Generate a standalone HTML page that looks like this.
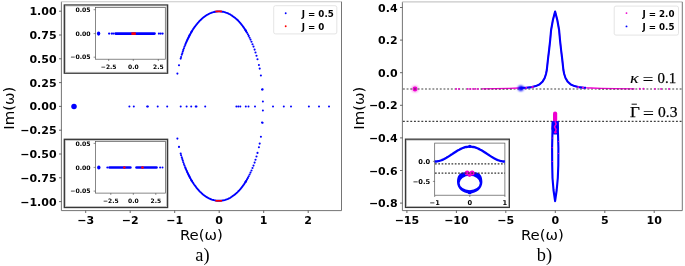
<!DOCTYPE html>
<html><head><meta charset="utf-8"><title>figure</title>
<style>html,body{margin:0;padding:0;background:#fff}svg{display:block}text{fill:#000}</style></head>
<body><svg width="685" height="266" viewBox="0 0 685 266">
<rect width="685" height="266" fill="#fff"/>
<filter id="bl" x="-50%" y="-50%" width="200%" height="200%"><feGaussianBlur stdDeviation="0.55"/></filter>
<rect x="61.4" y="1.7" width="280.1" height="208.9" fill="#fff" stroke="none"/>
<path d="M61.4 210.6V1.7" stroke="#5c5c5c" stroke-width="0.85" fill="none"/>
<path d="M61.4 210.6H341.5" stroke="#5c5c5c" stroke-width="0.85" fill="none"/>
<path d="M61.4 1.7H341.5" stroke="#c8c8c8" stroke-width="1.1" fill="none"/>
<path d="M341.5 1.7V210.6" stroke="#5c5c5c" stroke-width="0.85" fill="none"/>
<path d="M59.0 11.2H61.4" stroke="#444" stroke-width="0.8"/>
<text x="56.6" y="15.2" font-size="11" font-weight="bold" text-anchor="end" font-family='"DejaVu Sans","Liberation Sans",sans-serif' >1.00</text>
<path d="M59.0 35.0H61.4" stroke="#444" stroke-width="0.8"/>
<text x="56.6" y="39.0" font-size="11" font-weight="bold" text-anchor="end" font-family='"DejaVu Sans","Liberation Sans",sans-serif' >0.75</text>
<path d="M59.0 58.8H61.4" stroke="#444" stroke-width="0.8"/>
<text x="56.6" y="62.8" font-size="11" font-weight="bold" text-anchor="end" font-family='"DejaVu Sans","Liberation Sans",sans-serif' >0.50</text>
<path d="M59.0 82.6H61.4" stroke="#444" stroke-width="0.8"/>
<text x="56.6" y="86.6" font-size="11" font-weight="bold" text-anchor="end" font-family='"DejaVu Sans","Liberation Sans",sans-serif' >0.25</text>
<path d="M59.0 106.4H61.4" stroke="#444" stroke-width="0.8"/>
<text x="56.6" y="110.4" font-size="11" font-weight="bold" text-anchor="end" font-family='"DejaVu Sans","Liberation Sans",sans-serif' >0.00</text>
<path d="M59.0 130.2H61.4" stroke="#444" stroke-width="0.8"/>
<text x="56.6" y="134.2" font-size="11" font-weight="bold" text-anchor="end" font-family='"DejaVu Sans","Liberation Sans",sans-serif' >−0.25</text>
<path d="M59.0 154.0H61.4" stroke="#444" stroke-width="0.8"/>
<text x="56.6" y="158.0" font-size="11" font-weight="bold" text-anchor="end" font-family='"DejaVu Sans","Liberation Sans",sans-serif' >−0.50</text>
<path d="M59.0 177.8H61.4" stroke="#444" stroke-width="0.8"/>
<text x="56.6" y="181.8" font-size="11" font-weight="bold" text-anchor="end" font-family='"DejaVu Sans","Liberation Sans",sans-serif' >−0.75</text>
<path d="M59.0 201.6H61.4" stroke="#444" stroke-width="0.8"/>
<text x="56.6" y="205.6" font-size="11" font-weight="bold" text-anchor="end" font-family='"DejaVu Sans","Liberation Sans",sans-serif' >−1.00</text>
<path d="M85.7 210.6V213.0" stroke="#444" stroke-width="0.8"/>
<text x="85.7" y="224.2" font-size="11" font-weight="bold" text-anchor="middle" font-family='"DejaVu Sans","Liberation Sans",sans-serif' >−3</text>
<path d="M130.2 210.6V213.0" stroke="#444" stroke-width="0.8"/>
<text x="130.2" y="224.2" font-size="11" font-weight="bold" text-anchor="middle" font-family='"DejaVu Sans","Liberation Sans",sans-serif' >−2</text>
<path d="M174.7 210.6V213.0" stroke="#444" stroke-width="0.8"/>
<text x="174.7" y="224.2" font-size="11" font-weight="bold" text-anchor="middle" font-family='"DejaVu Sans","Liberation Sans",sans-serif' >−1</text>
<path d="M219.2 210.6V213.0" stroke="#444" stroke-width="0.8"/>
<text x="219.2" y="224.2" font-size="11" font-weight="bold" text-anchor="middle" font-family='"DejaVu Sans","Liberation Sans",sans-serif' >0</text>
<path d="M263.7 210.6V213.0" stroke="#444" stroke-width="0.8"/>
<text x="263.7" y="224.2" font-size="11" font-weight="bold" text-anchor="middle" font-family='"DejaVu Sans","Liberation Sans",sans-serif' >1</text>
<path d="M308.2 210.6V213.0" stroke="#444" stroke-width="0.8"/>
<text x="308.2" y="224.2" font-size="11" font-weight="bold" text-anchor="middle" font-family='"DejaVu Sans","Liberation Sans",sans-serif' >2</text>
<text x="201.4" y="240.0" font-size="14.9" font-weight="normal" text-anchor="middle" font-family='"DejaVu Sans","Liberation Sans",sans-serif' >Re(ω)</text>
<text transform="translate(14.4 108.2) rotate(-90)" font-size="14.9" text-anchor="middle" font-family='"DejaVu Sans","Liberation Sans",sans-serif'>Im(ω)</text>
<text x="202.5" y="261.4" font-size="18.4" font-weight="normal" text-anchor="middle" font-family='"Liberation Serif","DejaVu Serif",serif' >a)</text>
<path d="M191.1 32.5L191.7 31.5L192.3 30.5L192.9 29.6L193.5 28.6L194.1 27.7L194.7 26.9L195.4 26.0L196.0 25.2L196.6 24.4L197.3 23.6L197.9 22.8L198.6 22.1L199.2 21.3L199.9 20.6L200.6 20.0L201.3 19.3L201.9 18.7L202.6 18.1L203.3 17.5L204.0 17.0L204.7 16.5L205.4 16.0L206.1 15.5L206.8 15.0L207.6 14.6L208.3 14.2L209.0 13.8L209.7 13.5L210.4 13.2L211.2 12.9L211.9 12.6L212.6 12.4L213.4 12.2L214.1 12.0L214.9 11.8L215.6 11.7L216.3 11.6L217.1 11.5L217.8 11.4L218.6 11.4L219.3 11.4L220.0 11.4L220.8 11.5L221.5 11.6L222.3 11.7L223.0 11.8L223.7 11.9L224.5 12.1L225.2 12.3L225.9 12.6L226.7 12.8L227.4 13.1L228.1 13.4L228.9 13.8L229.6 14.1L230.3 14.5L231.0 15.0L231.7 15.4L232.4 15.9L233.1 16.4L233.8 16.9L234.5 17.4L235.2 18.0L235.9 18.6L236.6 19.2L237.3 19.8L238.0 20.5L238.6 21.2L239.3 21.9L239.9 22.7L240.6 23.4L241.2 24.2L241.9 25.0L242.5 25.8L243.1 26.7L243.8 27.6L244.4 28.5L245.0 29.4L245.6 30.3L246.2 31.3" stroke="#0000ff" stroke-width="1.9" fill="none" stroke-linecap="round"/>
<path d="M191.1 179.7L191.7 180.7L192.3 181.7L192.9 182.6L193.5 183.6L194.1 184.5L194.7 185.3L195.4 186.2L196.0 187.0L196.6 187.8L197.3 188.6L197.9 189.4L198.6 190.1L199.2 190.9L199.9 191.6L200.6 192.2L201.3 192.9L201.9 193.5L202.6 194.1L203.3 194.7L204.0 195.2L204.7 195.7L205.4 196.2L206.1 196.7L206.8 197.2L207.6 197.6L208.3 198.0L209.0 198.4L209.7 198.7L210.4 199.0L211.2 199.3L211.9 199.6L212.6 199.8L213.4 200.0L214.1 200.2L214.9 200.4L215.6 200.5L216.3 200.6L217.1 200.7L217.8 200.8L218.6 200.8L219.3 200.8L220.0 200.8L220.8 200.7L221.5 200.6L222.3 200.5L223.0 200.4L223.7 200.3L224.5 200.1L225.2 199.9L225.9 199.6L226.7 199.4L227.4 199.1L228.1 198.8L228.9 198.4L229.6 198.1L230.3 197.7L231.0 197.2L231.7 196.8L232.4 196.3L233.1 195.8L233.8 195.3L234.5 194.8L235.2 194.2L235.9 193.6L236.6 193.0L237.3 192.4L238.0 191.7L238.6 191.0L239.3 190.3L239.9 189.5L240.6 188.8L241.2 188.0L241.9 187.2L242.5 186.4L243.1 185.5L243.8 184.6L244.4 183.7L245.0 182.8L245.6 181.9L246.2 180.9" stroke="#0000ff" stroke-width="1.9" fill="none" stroke-linecap="round"/>
<g fill="#0000ff" opacity="1"><circle cx="177.4" cy="73.6" r="1.05"/><circle cx="179.0" cy="65.3" r="1.05"/><circle cx="180.7" cy="58.6" r="1.05"/><circle cx="181.1" cy="57.0" r="1.05"/><circle cx="181.8" cy="54.8" r="1.05"/><circle cx="182.3" cy="53.2" r="1.05"/><circle cx="182.8" cy="51.6" r="1.05"/><circle cx="183.3" cy="49.9" r="1.05"/><circle cx="183.9" cy="48.2" r="1.05"/><circle cx="184.5" cy="46.6" r="1.05"/><circle cx="185.2" cy="45.0" r="1.05"/><circle cx="185.6" cy="43.8" r="1.05"/><circle cx="186.1" cy="42.6" r="1.05"/><circle cx="186.7" cy="41.4" r="1.05"/><circle cx="187.1" cy="40.3" r="1.05"/><circle cx="187.6" cy="39.4" r="1.05"/><circle cx="188.0" cy="38.5" r="1.05"/><circle cx="188.4" cy="37.7" r="1.05"/><circle cx="188.8" cy="36.9" r="1.05"/><circle cx="189.2" cy="36.1" r="1.05"/><circle cx="189.5" cy="35.4" r="1.05"/><circle cx="189.9" cy="34.7" r="1.05"/><circle cx="190.3" cy="34.0" r="1.05"/><circle cx="191.0" cy="32.7" r="1.05"/><circle cx="191.7" cy="31.5" r="1.05"/><circle cx="262.6" cy="89.4" r="1.05"/><circle cx="260.9" cy="75.5" r="1.05"/><circle cx="259.7" cy="68.6" r="1.05"/><circle cx="258.9" cy="65.0" r="1.05"/><circle cx="257.5" cy="59.3" r="1.05"/><circle cx="256.5" cy="55.7" r="1.05"/><circle cx="255.5" cy="52.5" r="1.05"/><circle cx="254.6" cy="49.6" r="1.05"/><circle cx="253.5" cy="46.6" r="1.05"/><circle cx="252.5" cy="44.2" r="1.05"/><circle cx="251.5" cy="41.7" r="1.05"/><circle cx="250.5" cy="39.6" r="1.05"/><circle cx="249.6" cy="37.7" r="1.05"/><circle cx="248.7" cy="35.9" r="1.05"/><circle cx="247.9" cy="34.3" r="1.05"/><circle cx="247.0" cy="32.8" r="1.05"/><circle cx="246.2" cy="31.4" r="1.05"/><circle cx="245.5" cy="30.2" r="1.05"/><circle cx="177.4" cy="138.6" r="1.05"/><circle cx="179.0" cy="146.9" r="1.05"/><circle cx="180.7" cy="153.6" r="1.05"/><circle cx="181.1" cy="155.2" r="1.05"/><circle cx="181.8" cy="157.4" r="1.05"/><circle cx="182.3" cy="159.0" r="1.05"/><circle cx="182.8" cy="160.6" r="1.05"/><circle cx="183.3" cy="162.3" r="1.05"/><circle cx="183.9" cy="164.0" r="1.05"/><circle cx="184.5" cy="165.6" r="1.05"/><circle cx="185.2" cy="167.2" r="1.05"/><circle cx="185.6" cy="168.4" r="1.05"/><circle cx="186.1" cy="169.6" r="1.05"/><circle cx="186.7" cy="170.8" r="1.05"/><circle cx="187.1" cy="171.9" r="1.05"/><circle cx="187.6" cy="172.8" r="1.05"/><circle cx="188.0" cy="173.7" r="1.05"/><circle cx="188.4" cy="174.5" r="1.05"/><circle cx="188.8" cy="175.3" r="1.05"/><circle cx="189.2" cy="176.1" r="1.05"/><circle cx="189.5" cy="176.8" r="1.05"/><circle cx="189.9" cy="177.5" r="1.05"/><circle cx="190.3" cy="178.2" r="1.05"/><circle cx="191.0" cy="179.5" r="1.05"/><circle cx="191.7" cy="180.7" r="1.05"/><circle cx="262.6" cy="122.8" r="1.05"/><circle cx="260.9" cy="136.7" r="1.05"/><circle cx="259.7" cy="143.6" r="1.05"/><circle cx="258.9" cy="147.2" r="1.05"/><circle cx="257.5" cy="152.9" r="1.05"/><circle cx="256.5" cy="156.5" r="1.05"/><circle cx="255.5" cy="159.7" r="1.05"/><circle cx="254.6" cy="162.6" r="1.05"/><circle cx="253.5" cy="165.6" r="1.05"/><circle cx="252.5" cy="168.0" r="1.05"/><circle cx="251.5" cy="170.5" r="1.05"/><circle cx="250.5" cy="172.6" r="1.05"/><circle cx="249.6" cy="174.5" r="1.05"/><circle cx="248.7" cy="176.3" r="1.05"/><circle cx="247.9" cy="177.9" r="1.05"/><circle cx="247.0" cy="179.4" r="1.05"/><circle cx="246.2" cy="180.8" r="1.05"/><circle cx="245.5" cy="182.0" r="1.05"/></g>
<path d="M215.4 11.4H222" stroke="#ff0000" stroke-width="1.7"/>
<path d="M215.4 200.8H222" stroke="#ff0000" stroke-width="1.7"/>
<g fill="#0000ff" opacity="1"><circle cx="129.4" cy="106.5" r="1.0"/><circle cx="133.8" cy="106.5" r="1.0"/><circle cx="147.1" cy="106.5" r="1.0"/><circle cx="147.9" cy="106.5" r="1.0"/><circle cx="157.7" cy="106.5" r="1.0"/><circle cx="167.2" cy="106.5" r="1.0"/><circle cx="180.7" cy="106.5" r="1.0"/><circle cx="186.6" cy="106.5" r="1.0"/><circle cx="191.2" cy="106.5" r="1.0"/><circle cx="195.7" cy="106.5" r="1.0"/><circle cx="196.5" cy="106.5" r="1.0"/><circle cx="205.2" cy="106.5" r="1.0"/><circle cx="236.4" cy="106.5" r="1.0"/><circle cx="238.3" cy="106.5" r="1.0"/><circle cx="240.3" cy="106.5" r="1.0"/><circle cx="245.8" cy="106.5" r="1.0"/><circle cx="248.5" cy="106.5" r="1.0"/><circle cx="255.0" cy="106.5" r="1.0"/><circle cx="273.0" cy="106.5" r="1.0"/><circle cx="283.8" cy="106.5" r="1.0"/><circle cx="291.0" cy="106.5" r="1.0"/><circle cx="308.9" cy="106.5" r="1.0"/><circle cx="319.0" cy="106.5" r="1.0"/><circle cx="329.0" cy="106.5" r="1.0"/></g>
<g fill="#0000ff" opacity="1"><circle cx="262.0" cy="89.6" r="1.0"/><circle cx="262.9" cy="101.5" r="1.0"/><circle cx="262.9" cy="110.6" r="1.0"/><circle cx="262.0" cy="122.6" r="1.0"/></g>
<circle cx="74" cy="106.4" r="2.75" fill="#0000ff" filter="url(#bl)"/>
<rect x="273.7" y="5.7" width="63.1" height="28.2" rx="1.8" fill="#fff" stroke="#ddd" stroke-width="0.8"/>
<circle cx="285.7" cy="13.2" r="0.95" fill="#0000ff"/><circle cx="285.7" cy="26.2" r="0.95" fill="#ff0000"/>
<text x="301.8" y="16.8" font-size="8.7" font-weight="bold" text-anchor="start" font-family='"DejaVu Sans","Liberation Sans",sans-serif' >J = 0.5</text>
<text x="301.8" y="29.8" font-size="8.7" font-weight="bold" text-anchor="start" font-family='"DejaVu Sans","Liberation Sans",sans-serif' >J = 0</text>
<rect x="64.3" y="5.0" width="103.3" height="68.2" fill="#fff" stroke="#383838" stroke-width="1.35"/>
<rect x="65.3" y="6.0" width="101.3" height="66.2" fill="none" stroke="#aaa" stroke-width="0.6"/>
<rect x="95.4" y="7.5" width="69.9" height="51.7" fill="#fff" stroke="#555" stroke-width="0.7"/>
<path d="M93.6 9.7H95.4" stroke="#444" stroke-width="0.6"/>
<text x="90.6" y="11.95" font-size="6.15" font-weight="bold" text-anchor="end" font-family='"DejaVu Sans","Liberation Sans",sans-serif' >0.05</text>
<path d="M93.6 33.6H95.4" stroke="#444" stroke-width="0.6"/>
<text x="90.6" y="35.85" font-size="6.15" font-weight="bold" text-anchor="end" font-family='"DejaVu Sans","Liberation Sans",sans-serif' >0.00</text>
<path d="M93.6 57.2H95.4" stroke="#444" stroke-width="0.6"/>
<text x="90.6" y="59.45" font-size="6.15" font-weight="bold" text-anchor="end" font-family='"DejaVu Sans","Liberation Sans",sans-serif' >−0.05</text>
<path d="M108.7 59.2V61" stroke="#444" stroke-width="0.6"/>
<text x="108.7" y="68.9" font-size="6" font-weight="bold" text-anchor="middle" font-family='"DejaVu Sans","Liberation Sans",sans-serif' >−2.5</text>
<path d="M133.3 59.2V61" stroke="#444" stroke-width="0.6"/>
<text x="133.3" y="68.9" font-size="6" font-weight="bold" text-anchor="middle" font-family='"DejaVu Sans","Liberation Sans",sans-serif' >0.0</text>
<path d="M158.3 59.2V61" stroke="#444" stroke-width="0.6"/>
<text x="158.3" y="68.9" font-size="6" font-weight="bold" text-anchor="middle" font-family='"DejaVu Sans","Liberation Sans",sans-serif' >2.5</text>
<path d="M115.5 33.6H154.5" stroke="#0000ff" stroke-width="2.6" stroke-linecap="round"/>
<g fill="#0000ff" opacity="1"><circle cx="109.1" cy="33.6" r="1.1"/><circle cx="111.7" cy="33.6" r="1.1"/><circle cx="113.2" cy="33.6" r="1.1"/><circle cx="158.9" cy="33.6" r="1.1"/><circle cx="160.7" cy="33.6" r="1.1"/><circle cx="162.6" cy="33.6" r="1.1"/></g>
<ellipse cx="98.6" cy="33.6" rx="1.7" ry="2.1" fill="#0000ff"/>
<path d="M131.4 33.6H135.8" stroke="#ff0000" stroke-width="2.6"/>
<rect x="64.3" y="139.3" width="103.3" height="68.19999999999999" fill="#fff" stroke="#383838" stroke-width="1.35"/>
<rect x="65.3" y="140.3" width="101.3" height="66.19999999999999" fill="none" stroke="#aaa" stroke-width="0.6"/>
<rect x="95.4" y="141.6" width="70.1" height="51.5" fill="#fff" stroke="#555" stroke-width="0.7"/>
<path d="M93.6 143.4H95.4" stroke="#444" stroke-width="0.6"/>
<text x="90.6" y="145.65" font-size="6.15" font-weight="bold" text-anchor="end" font-family='"DejaVu Sans","Liberation Sans",sans-serif' >0.05</text>
<path d="M93.6 167.4H95.4" stroke="#444" stroke-width="0.6"/>
<text x="90.6" y="169.65" font-size="6.15" font-weight="bold" text-anchor="end" font-family='"DejaVu Sans","Liberation Sans",sans-serif' >0.00</text>
<path d="M93.6 191.1H95.4" stroke="#444" stroke-width="0.6"/>
<text x="90.6" y="193.35" font-size="6.15" font-weight="bold" text-anchor="end" font-family='"DejaVu Sans","Liberation Sans",sans-serif' >−0.05</text>
<path d="M110.8 193.1V194.9" stroke="#444" stroke-width="0.6"/>
<text x="110.8" y="202.9" font-size="6" font-weight="bold" text-anchor="middle" font-family='"DejaVu Sans","Liberation Sans",sans-serif' >−2.5</text>
<path d="M133.3 193.1V194.9" stroke="#444" stroke-width="0.6"/>
<text x="133.3" y="202.9" font-size="6" font-weight="bold" text-anchor="middle" font-family='"DejaVu Sans","Liberation Sans",sans-serif' >0.0</text>
<path d="M155.8 193.1V194.9" stroke="#444" stroke-width="0.6"/>
<text x="155.8" y="202.9" font-size="6" font-weight="bold" text-anchor="middle" font-family='"DejaVu Sans","Liberation Sans",sans-serif' >2.5</text>
<path d="M109.5 167.5H130.4" stroke="#0000ff" stroke-width="2.6" stroke-linecap="round"/>
<path d="M136.5 167.5H156.5" stroke="#0000ff" stroke-width="2.6" stroke-linecap="round"/>
<g fill="#0000ff" opacity="1"><circle cx="107.3" cy="167.5" r="1.0"/><circle cx="160.1" cy="167.5" r="1.0"/><circle cx="162.5" cy="167.5" r="1.0"/></g>
<ellipse cx="98.8" cy="167.5" rx="1.7" ry="2.1" fill="#0000ff"/>
<g fill="#ff0000" opacity="1"><circle cx="124.3" cy="167.5" r="1.3"/><circle cx="142.5" cy="167.5" r="1.3"/></g>
<path d="M402.4 210.6V1.9" stroke="#5c5c5c" stroke-width="0.85" fill="none"/>
<path d="M402.4 210.6H682.3" stroke="#5c5c5c" stroke-width="0.85" fill="none"/>
<path d="M402.4 1.9H682.3" stroke="#c8c8c8" stroke-width="1.1" fill="none"/>
<path d="M682.3 1.9V210.6" stroke="#5c5c5c" stroke-width="0.85" fill="none"/>
<path d="M400.0 7.5H402.4" stroke="#444" stroke-width="0.8"/>
<text x="397.6" y="11.5" font-size="11" font-weight="bold" text-anchor="end" font-family='"DejaVu Sans","Liberation Sans",sans-serif' >0.4</text>
<path d="M400.0 40.1H402.4" stroke="#444" stroke-width="0.8"/>
<text x="397.6" y="44.1" font-size="11" font-weight="bold" text-anchor="end" font-family='"DejaVu Sans","Liberation Sans",sans-serif' >0.2</text>
<path d="M400.0 72.7H402.4" stroke="#444" stroke-width="0.8"/>
<text x="397.6" y="76.7" font-size="11" font-weight="bold" text-anchor="end" font-family='"DejaVu Sans","Liberation Sans",sans-serif' >0.0</text>
<path d="M400.0 105.3H402.4" stroke="#444" stroke-width="0.8"/>
<text x="397.6" y="109.3" font-size="11" font-weight="bold" text-anchor="end" font-family='"DejaVu Sans","Liberation Sans",sans-serif' >−0.2</text>
<path d="M400.0 137.9H402.4" stroke="#444" stroke-width="0.8"/>
<text x="397.6" y="141.9" font-size="11" font-weight="bold" text-anchor="end" font-family='"DejaVu Sans","Liberation Sans",sans-serif' >−0.4</text>
<path d="M400.0 170.5H402.4" stroke="#444" stroke-width="0.8"/>
<text x="397.6" y="174.5" font-size="11" font-weight="bold" text-anchor="end" font-family='"DejaVu Sans","Liberation Sans",sans-serif' >−0.6</text>
<path d="M400.0 203.1H402.4" stroke="#444" stroke-width="0.8"/>
<text x="397.6" y="207.1" font-size="11" font-weight="bold" text-anchor="end" font-family='"DejaVu Sans","Liberation Sans",sans-serif' >−0.8</text>
<path d="M406.9 210.6V213.0" stroke="#444" stroke-width="0.8"/>
<text x="406.9" y="224.2" font-size="11" font-weight="bold" text-anchor="middle" font-family='"DejaVu Sans","Liberation Sans",sans-serif' >−15</text>
<path d="M456.4 210.6V213.0" stroke="#444" stroke-width="0.8"/>
<text x="456.4" y="224.2" font-size="11" font-weight="bold" text-anchor="middle" font-family='"DejaVu Sans","Liberation Sans",sans-serif' >−10</text>
<path d="M505.8 210.6V213.0" stroke="#444" stroke-width="0.8"/>
<text x="505.8" y="224.2" font-size="11" font-weight="bold" text-anchor="middle" font-family='"DejaVu Sans","Liberation Sans",sans-serif' >−5</text>
<path d="M555.3 210.6V213.0" stroke="#444" stroke-width="0.8"/>
<text x="555.3" y="224.2" font-size="11" font-weight="bold" text-anchor="middle" font-family='"DejaVu Sans","Liberation Sans",sans-serif' >0</text>
<path d="M604.8 210.6V213.0" stroke="#444" stroke-width="0.8"/>
<text x="604.8" y="224.2" font-size="11" font-weight="bold" text-anchor="middle" font-family='"DejaVu Sans","Liberation Sans",sans-serif' >5</text>
<path d="M654.2 210.6V213.0" stroke="#444" stroke-width="0.8"/>
<text x="654.2" y="224.2" font-size="11" font-weight="bold" text-anchor="middle" font-family='"DejaVu Sans","Liberation Sans",sans-serif' >10</text>
<text x="542.4" y="240.0" font-size="14.9" font-weight="normal" text-anchor="middle" font-family='"DejaVu Sans","Liberation Sans",sans-serif' >Re(ω)</text>
<text transform="translate(363.5 108.2) rotate(-90)" font-size="14.9" text-anchor="middle" font-family='"DejaVu Sans","Liberation Sans",sans-serif'>Im(ω)</text>
<text x="544.5" y="261.4" font-size="18.4" font-weight="normal" text-anchor="middle" font-family='"Liberation Serif","DejaVu Serif",serif' >b)</text>
<filter id="bl2" x="-50%" y="-50%" width="200%" height="200%"><feGaussianBlur stdDeviation="0.8"/></filter>
<circle cx="415" cy="89" r="3.3" fill="#ee00d0" opacity="0.45" filter="url(#bl2)"/><circle cx="415" cy="89" r="2.4" fill="#ee00d0" filter="url(#bl)"/>
<path d="M402.9 89H682.3" stroke="#404040" stroke-width="1.2" stroke-dasharray="1.9 1.79"/>
<path d="M402.9 121.4H682.3" stroke="#404040" stroke-width="1.2" stroke-dasharray="1.9 1.79"/>
<clipPath id="cd"><rect x="481" y="88.3" width="32" height="2"/><rect x="597" y="88.3" width="38" height="2"/></clipPath>
<path d="M481.6 88.8L495.1 88.7L509.1 88.4L519.2 88.0L526.1 87.7L531.8 87.1L535.7 86.1L539.4 84.5L542.7 81.4L544.7 78.0L546.0 74.0L546.8 70.0L548.0 59.0L549.1 50.0L550.2 40.0L551.1 30.0L552.9 20.0L555.1 11.5L557.3 20.0L559.1 30.0L560.0 40.0L561.1 50.0L562.2 59.0L563.4 70.0L564.2 74.0L565.5 78.0L567.5 81.4L570.8 84.5L574.5 86.1L578.4 87.1L584.1 87.7L591.0 88.0L601.1 88.4L615.1 88.7L634.6 88.8" stroke="#ee00d0" stroke-width="1.35" fill="none" stroke-linejoin="round"/>
<path d="M520.7 87.9L526.1 87.7L531.8 87.1L535.7 86.1L539.4 84.5L542.7 81.4L544.7 78.0L546.0 74.0L546.8 70.0L548.0 59.0L549.1 50.0L550.2 40.0L551.1 30.0L552.9 20.0L555.1 11.5L557.3 20.0L559.1 30.0L560.0 40.0L561.1 50.0L562.2 59.0L563.4 70.0L564.2 74.0L565.5 78.0L567.5 81.4L570.8 84.5L574.5 86.1L578.4 87.1L584.1 87.7L586.0 87.8" stroke="#0000ff" stroke-width="2.1" fill="none" stroke-linejoin="round"/>
<path d="M402.9 89H682.3" stroke="#333" stroke-width="1.3" stroke-dasharray="1.9 1.79" opacity="0.45" clip-path="url(#cd)"/>
<path d="M531.5 87.1L531.8 87.1L533.5 86.7" stroke="#ee00d0" stroke-width="1.6" fill="none"/>
<path d="M525.5 87.7L526.1 87.7L527.0 87.6" stroke="#ee00d0" stroke-width="1.6" fill="none"/>
<path d="M577.5 86.9L578.4 87.1L579.0 87.2" stroke="#ee00d0" stroke-width="1.6" fill="none"/>
<path d="M582.0 87.5L584.0 87.7" stroke="#ee00d0" stroke-width="1.6" fill="none"/>
<g fill="#ee00d0" opacity="1"><circle cx="456.2" cy="88.9" r="0.95"/><circle cx="459.0" cy="88.9" r="0.95"/><circle cx="467.8" cy="88.9" r="0.95"/><circle cx="470.3" cy="88.9" r="0.95"/><circle cx="473.0" cy="88.9" r="0.95"/><circle cx="475.4" cy="88.9" r="0.95"/><circle cx="478.0" cy="88.9" r="0.95"/><circle cx="639.7" cy="88.8" r="0.95"/><circle cx="643.4" cy="88.8" r="0.95"/><circle cx="655.0" cy="88.9" r="0.95"/><circle cx="661.0" cy="88.9" r="0.95"/><circle cx="669.0" cy="88.9" r="0.95"/></g>
<circle cx="520.8" cy="88.3" r="2.8" fill="#0000ff" filter="url(#bl2)"/>
<path d="M555.1 113.5V121.5" stroke="#ee00d0" stroke-width="4.2" stroke-linecap="round"/>
<path d="M552.8 121.5L552.4 134.0L552.1 148.0L552.2 165.0L552.5 178.0L553.5 190.0L555.1 201.2L556.7 190.0L557.8 178.0L558.3 165.0L558.4 148.0L558.0 134.0L557.5 121.5" stroke="#0000ff" stroke-width="2.1" fill="none" stroke-linejoin="round"/>
<path d="M551.8 121.3H558.6L558.9 129L557 134.5H553.4L551.4 129Z" fill="#0000ff"/>
<path d="M555.1 121.5l1 2.6l-1.6 2.8l1.6 2.6l-0.8 2.6" stroke="#ee00d0" stroke-width="1.5" fill="none" stroke-linejoin="round"/>
<circle cx="555.4" cy="132.3" r="1.3" fill="#ee00d0"/>
<g fill="#ee00d0" opacity="1"><circle cx="552.2" cy="138.0" r="0.6"/><circle cx="558.6" cy="141.5" r="0.6"/><circle cx="552.3" cy="161.5" r="0.6"/><circle cx="558.4" cy="153.5" r="0.6"/><circle cx="552.1" cy="147.6" r="0.6"/></g>
<rect x="614.2" y="6.1" width="64.3" height="29" rx="1.8" fill="#fff" stroke="#ddd" stroke-width="0.8"/>
<circle cx="626.5" cy="13.1" r="0.95" fill="#ee00d0"/><circle cx="626.5" cy="26.4" r="0.95" fill="#0000ff"/>
<text x="642.5" y="17.0" font-size="8.7" font-weight="bold" text-anchor="start" font-family='"DejaVu Sans","Liberation Sans",sans-serif' >J = 2.0</text>
<text x="642.5" y="30.3" font-size="8.7" font-weight="bold" text-anchor="start" font-family='"DejaVu Sans","Liberation Sans",sans-serif' >J = 0.5</text>
<text x="629.9" y="82.9" font-size="15.4" font-style="italic" font-family='"Liberation Serif","DejaVu Serif",serif' textLength="8.7" lengthAdjust="spacingAndGlyphs" stroke="#000" stroke-width="0.1">κ</text>
<text x="642.5" y="84.6" font-size="16.5" font-family='"Liberation Serif","DejaVu Serif",serif' textLength="11" lengthAdjust="spacingAndGlyphs">=</text>
<text x="657.6" y="82.8" font-size="14.9" font-family='"Liberation Serif","DejaVu Serif",serif' stroke="#000" stroke-width="0.25">0.1</text>
<text x="630.0" y="116.8" font-size="15.2" font-family='"Liberation Serif","DejaVu Serif",serif' textLength="9.8" lengthAdjust="spacingAndGlyphs" stroke="#000" stroke-width="0.25">Γ</text>
<path d="M631.6 104.2H636.9" stroke="#111" stroke-width="1"/>
<text x="642.7" y="118.7" font-size="17.5" font-family='"Liberation Serif","DejaVu Serif",serif' textLength="11.3" lengthAdjust="spacingAndGlyphs">=</text>
<text x="658.0" y="116.9" font-size="15.5" font-family='"Liberation Serif","DejaVu Serif",serif' stroke="#000" stroke-width="0.25">0.3</text>
<rect x="405.5" y="139.2" width="103.80000000000001" height="68.20000000000002" fill="#fff" stroke="#383838" stroke-width="1.35"/>
<rect x="406.5" y="140.2" width="101.80000000000001" height="66.20000000000002" fill="none" stroke="#aaa" stroke-width="0.6"/>
<rect x="434.7" y="143.1" width="70.19999999999999" height="52.099999999999994" fill="#fff" stroke="#555" stroke-width="0.7"/>
<path d="M432.9 161.4H434.7" stroke="#444" stroke-width="0.6"/>
<text x="430.2" y="163.9" font-size="6.7" font-weight="bold" text-anchor="end" font-family='"DejaVu Sans","Liberation Sans",sans-serif' >0.0</text>
<path d="M432.9 181.4H434.7" stroke="#444" stroke-width="0.6"/>
<text x="430.2" y="183.9" font-size="6.7" font-weight="bold" text-anchor="end" font-family='"DejaVu Sans","Liberation Sans",sans-serif' >−0.5</text>
<path d="M434.7 195.2V197" stroke="#444" stroke-width="0.6"/>
<text x="434.7" y="205.2" font-size="6.7" font-weight="bold" text-anchor="middle" font-family='"DejaVu Sans","Liberation Sans",sans-serif' >−1</text>
<path d="M469.8 195.2V197" stroke="#444" stroke-width="0.6"/>
<text x="469.8" y="205.2" font-size="6.7" font-weight="bold" text-anchor="middle" font-family='"DejaVu Sans","Liberation Sans",sans-serif' >0</text>
<path d="M504.9 195.2V197" stroke="#444" stroke-width="0.6"/>
<text x="504.9" y="205.2" font-size="6.7" font-weight="bold" text-anchor="middle" font-family='"DejaVu Sans","Liberation Sans",sans-serif' >1</text>
<path d="M435 163.9H504.9" stroke="#333" stroke-width="1.1" stroke-dasharray="1.7 1.6"/>
<clipPath id="cb"><rect x="434.7" y="143.1" width="70.2" height="52.1"/></clipPath>
<g clip-path="url(#cb)"><path d="M434.7 161.5L435.9 161.5L437.0 161.3L438.2 161.1L439.4 160.9L440.6 160.5L441.7 160.1L442.9 159.6L444.1 159.0L445.2 158.4L446.4 157.8L447.6 157.1L448.7 156.4L449.9 155.6L451.1 154.8L452.2 154.1L453.4 153.3L454.6 152.5L455.8 151.7L456.9 151.0L458.1 150.3L459.3 149.7L460.4 149.1L461.6 148.5L462.8 148.0L463.9 147.6L465.1 147.2L466.3 147.0L467.5 146.8L468.6 146.6L469.8 146.6L471.0 146.6L472.1 146.8L473.3 147.0L474.5 147.2L475.7 147.6L476.8 148.0L478.0 148.5L479.2 149.1L480.3 149.7L481.5 150.3L482.7 151.0L483.8 151.7L485.0 152.5L486.2 153.3L487.4 154.1L488.5 154.8L489.7 155.6L490.9 156.4L492.0 157.1L493.2 157.8L494.4 158.4L495.5 159.0L496.7 159.6L497.9 160.1L499.1 160.5L500.2 160.9L501.4 161.1L502.6 161.3L503.7 161.5L504.9 161.5" stroke="#0000ff" stroke-width="2.3" fill="none" stroke-linecap="round"/></g>
<circle cx="469.8" cy="146.4" r="1.6" fill="#0000ff"/>
<path fill-rule="evenodd" fill="#0000ff" d="M457 182C457 176 459.5 172.2 464.5 172.2L475 172.2C480 172.2 482.4 176 482.4 182C482.4 188.5 476.5 193.4 469.7 193.4C462.8 193.4 457 188.5 457 182ZM459.6 183a10.1 7.2 0 1 0 20.2 0a10.1 7.2 0 1 0 -20.2 0Z"/>
<circle cx="469.7" cy="192.4" r="1.9" fill="#0000ff"/>
<circle cx="467.2" cy="173.1" r="2.5" fill="#ee00d0"/><circle cx="472.1" cy="173.1" r="2.5" fill="#ee00d0"/><ellipse cx="469.6" cy="174.6" rx="2.2" ry="2.3" fill="#ee00d0"/>
<path d="M435 173.1H504.9" stroke="#333" stroke-width="1.1" stroke-dasharray="1.7 1.6"/>
</svg></body></html>
